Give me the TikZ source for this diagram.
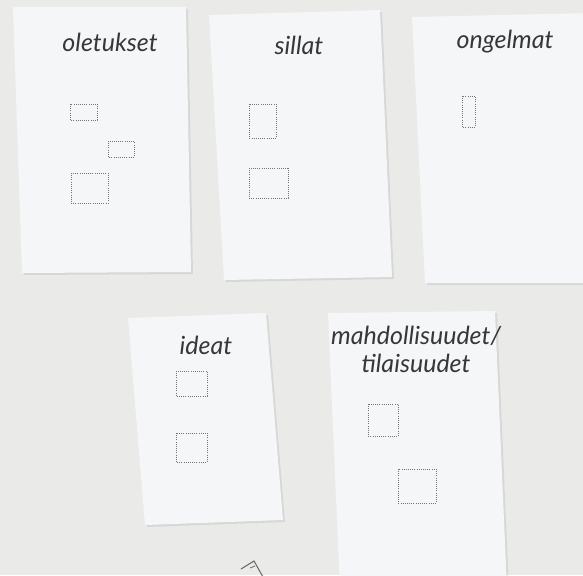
\documentclass[tikz,border=0pt]{standalone}
\usepackage{fontspec}
\setmainfont{Lato}
\definecolor{wallgray}{RGB}{234,234,233}
\definecolor{cardwhite}{RGB}{245,246,247}
\definecolor{inkgray}{RGB}{55,55,58}
\begin{document}
\begin{tikzpicture}[
		x=1pt, y=-1pt,
		every node/.style={font=\fontsize{25}{28}\selectfont\itshape, text=inkgray, inner sep=0pt},
		card/.style={fill=cardwhite},
		cardshadow/.style={fill=black, opacity=0.08},
		hole/.style={draw=gray!90!black, line width=0.75pt, dash pattern=on 0.75pt off 1.4pt}
	]
	\fill[wallgray] (0,0) rectangle (583,575);
	\useasboundingbox (0,0) rectangle (583,575);
	\clip (0,0) rectangle (583,575);
	% shadows
	\fill[cardshadow] (15,9) -- (188,9) -- (193,274) -- (24,275) -- cycle;
	\fill[cardshadow] (211,17) -- (382,12) -- (394,279) -- (226,282) -- cycle;
	\fill[cardshadow] (414,19) -- (590,15) -- (590,285) -- (427,285) -- cycle;
	\fill[cardshadow] (130,320) -- (268,315) -- (285,522) -- (147,527) -- cycle;
	\fill[cardshadow] (330,315) -- (497,313) -- (509,590) -- (342,590) -- cycle;
	% cards
	\fill[card] (13,7) -- (186,7) -- (191,272) -- (22,273) -- cycle;
	\fill[card] (209,15) -- (380,10) -- (392,277) -- (224,280) -- cycle;
	\fill[card] (412,17) -- (590,13) -- (590,283) -- (425,283) -- cycle;
	\fill[card] (128,318) -- (266,313) -- (283,520) -- (145,525) -- cycle;
	\fill[card] (328,313) -- (495,311) -- (507,590) -- (340,590) -- cycle;
	% titles
	\node (oletukset) at (110,42) {oletukset};
	\node (sillat) at (299,45) {sillat};
	\node (ongelmat) at (505,42) {ongelmat};
	\node (ideat) at (206,345) {ideat};
	\node[align=center] (mahdollisuudet) at (416,349) {mahdollisuudet/\\tilaisuudet};
	% dotted boxes
	\draw[hole] (70,104) rectangle (97,120);
	\draw[hole] (108,141) rectangle (134,157);
	\draw[hole] (71,173) rectangle (108,203);
	\draw[hole] (249,104) rectangle (276,138);
	\draw[hole] (249,168) rectangle (288,198);
	\draw[hole] (462,96) rectangle (475,127);
	\draw[hole] (176,371) rectangle (207,396);
	\draw[hole] (176,433) rectangle (207,462);
	\draw[hole] (368,404) rectangle (398,436);
	\draw[hole] (398,469) rectangle (436,503);
	% pen mark
	\draw[gray!80!black, line width=1pt] (241,569) -- (254,561) -- (263,577);
	\draw[gray!80!black, line width=0.8pt] (250,568) -- (255,566);
\end{tikzpicture}
\end{document}
